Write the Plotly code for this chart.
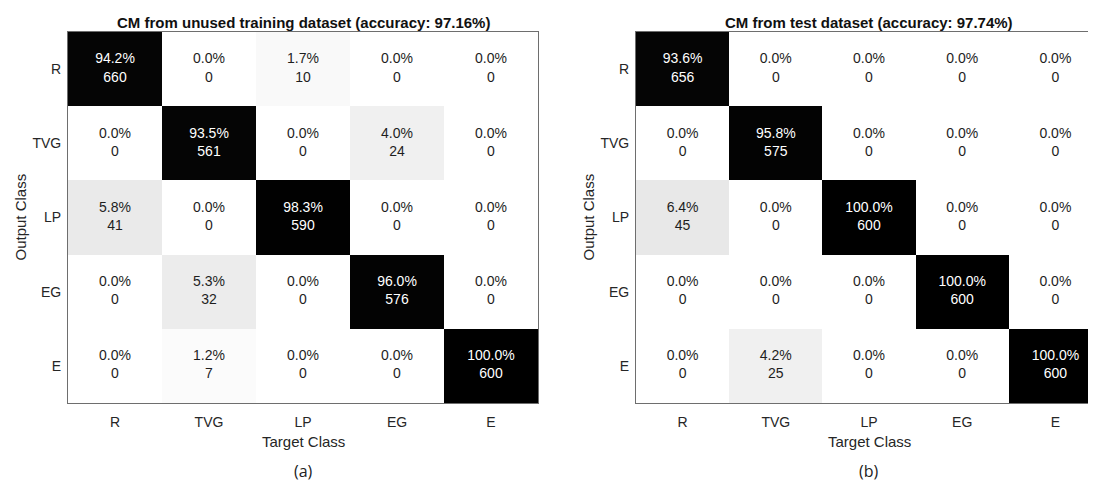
import plotly.graph_objects as go

classes = ["R", "TVG", "LP", "EG", "E"]

counts_a = [[660, 0, 10, 0, 0],
            [0, 561, 0, 24, 0],
            [41, 0, 590, 0, 0],
            [0, 32, 0, 576, 0],
            [0, 7, 0, 0, 600]]
pct_a = [[94.2, 0.0, 1.7, 0.0, 0.0],
         [0.0, 93.5, 0.0, 4.0, 0.0],
         [5.8, 0.0, 98.3, 0.0, 0.0],
         [0.0, 5.3, 0.0, 96.0, 0.0],
         [0.0, 1.2, 0.0, 0.0, 100.0]]

counts_b = [[656, 0, 0, 0, 0],
            [0, 575, 0, 0, 0],
            [45, 0, 600, 0, 0],
            [0, 0, 0, 600, 0],
            [0, 25, 0, 0, 600]]
pct_b = [[93.6, 0.0, 0.0, 0.0, 0.0],
         [0.0, 95.8, 0.0, 0.0, 0.0],
         [6.4, 0.0, 100.0, 0.0, 0.0],
         [0.0, 0.0, 0.0, 100.0, 0.0],
         [0.0, 4.2, 0.0, 0.0, 100.0]]

titles = ["CM from unused training dataset (accuracy: 97.16%)",
          "CM from test dataset (accuracy: 97.74%)"]
panel_labels = ["(a)", "(b)"]
x_title = "Target Class"
y_title = "Output Class"

W, H = 1096, 481
FONT = "Liberation Sans, Arial, sans-serif"
colorscale = [[0.0, "#ffffff"], [0.06, "#e9e9e9"], [0.9, "#080808"], [1.0, "#000000"]]

# pixel boxes of the two plot areas (left, right, top, bottom)
boxes = [(60, 530, 24, 395), (628, 1094, 24, 395)]

fig = go.Figure()
annotations = []
for i, (counts, pct) in enumerate([(counts_a, pct_a), (counts_b, pct_b)]):
    xa = "x" if i == 0 else "x2"
    ya = "y" if i == 0 else "y2"
    fig.add_trace(go.Heatmap(
        z=pct, x=classes, y=classes, colorscale=colorscale, zmin=0, zmax=100,
        showscale=False, xaxis=xa, yaxis=ya, hoverinfo="skip"))
    tx, ty, tt, tc = [], [], [], []
    for r, row_name in enumerate(classes):
        for c, col_name in enumerate(classes):
            tx.append(col_name)
            ty.append(row_name)
            tt.append(f"{pct[r][c]:.1f}%<br>{counts[r][c]}")
            tc.append("#ffffff" if pct[r][c] > 50 else "#1e1e1e")
    fig.add_trace(go.Scatter(
        x=tx, y=ty, text=tt, mode="text", xaxis=xa, yaxis=ya,
        textfont=dict(family=FONT, size=14, color=tc), hoverinfo="skip",
        showlegend=False))

    l, r_, t, b = boxes[i]
    xd = [l / W, r_ / W]
    yd = [1 - b / H, 1 - t / H]
    axis_common = dict(showline=True, mirror=True, linecolor="#6e6e6e", linewidth=1,
                       showgrid=False, zeroline=False, ticks="",
                       tickfont=dict(family=FONT, size=14, color="#262626"),
                       type="category", categoryorder="array", categoryarray=classes)
    suffix = "" if i == 0 else "2"
    fig.update_layout(**{
        "xaxis" + suffix: dict(domain=xd, anchor=ya, range=[-0.5, 4.5],
                               ticklabelstandoff=6, **axis_common),
        "yaxis" + suffix: dict(domain=yd, anchor=xa, range=[4.5, -0.5],
                               ticklabelstandoff=3, **axis_common),
    })
    cx = (l + r_) / 2 / W
    annotations.append(dict(text="<b>" + titles[i] + "</b>", x=cx, y=1 - 14 / H,
                            xref="paper", yref="paper", showarrow=False,
                            xanchor="center", yanchor="middle",
                            font=dict(family=FONT, size=15, color="#111111")))
    annotations.append(dict(text=x_title, x=cx, y=1 - 433 / H,
                            xref="paper", yref="paper", showarrow=False,
                            xanchor="center", yanchor="middle",
                            font=dict(family=FONT, size=15, color="#262626")))
    annotations.append(dict(text=y_title, x=(l - 48) / W, y=1 - ((t + b) / 2) / H,
                            xref="paper", yref="paper", showarrow=False, textangle=-90,
                            xanchor="center", yanchor="middle",
                            font=dict(family=FONT, size=15, color="#262626")))
    annotations.append(dict(text=panel_labels[i], x=cx, y=1 - 463 / H,
                            xref="paper", yref="paper", showarrow=False,
                            xanchor="center", yanchor="middle",
                            font=dict(family="Open Sans, Noto Sans, sans-serif", size=16,
                                      color="#222222")))

fig.update_layout(width=W, height=H, margin=dict(l=0, r=0, t=0, b=0),
                  paper_bgcolor="white", plot_bgcolor="white",
                  showlegend=False, annotations=annotations)

fig.write_html("out.html")
